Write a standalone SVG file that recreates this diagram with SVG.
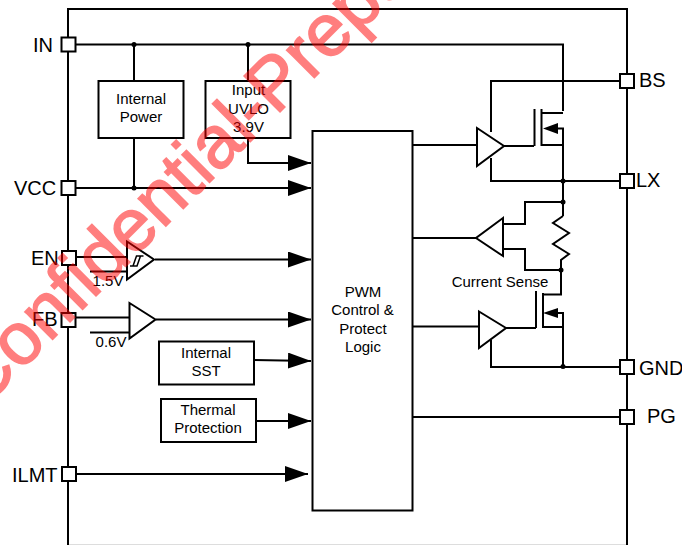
<svg xmlns="http://www.w3.org/2000/svg" width="682" height="545" viewBox="0 0 682 545">
<style>
.w{fill:none;stroke:#000;stroke-width:2}
.b{fill:#fff;stroke:#000;stroke-width:2}
.p{fill:#fff;stroke:#000;stroke-width:2}
.d{fill:#000}
text{font-family:"Liberation Sans",Arial,sans-serif;fill:#000}
.l{font-size:20px}
.s{font-size:15px;text-anchor:middle}
.wm{font-size:74px;fill:#ff0000;stroke:#ff0000;stroke-width:1.5;opacity:.5}
</style>
<defs>
<marker id="a" markerUnits="userSpaceOnUse" markerWidth="24" markerHeight="16" refX="23" refY="8" orient="auto"><path d="M0 0L23 8L0 16Z" fill="#000"/></marker>
</defs>
<path d="M68 544.500H627" fill="none" stroke="#ddd" stroke-width="1"/>
<path id="chip" class="w" d="M68 545V9H627V545"/>
<g id="connectors">
<path class="w" d="M75 44.500H563V111"/>
<path class="w" d="M134 44.500V81M134 137V188"/>
<path class="w" d="M248 44.500V81M248 138V163H311" marker-end="url(#a)"/>
<path class="w" d="M75 188H311" marker-end="url(#a)"/>
<path class="w" d="M155 259.500H311" marker-end="url(#a)"/>
<path class="w" d="M76 257H127M90 271.500H127"/>
<path class="w" d="M76 317.500H129M90 332.500H129"/>
<path class="w" d="M156 319.500H311" marker-end="url(#a)"/>
<path class="w" d="M254 360L311 361" marker-end="url(#a)"/>
<path class="w" d="M256 421H311" marker-end="url(#a)"/>
<path class="w" d="M76 474H308" marker-end="url(#a)"/>
<path class="w" d="M413 145H477M504 146H534M491 132V81H620M491 158V181H620"/>
<path class="w" d="M534.500 109V146M541.500 109V146M541.500 113H563M541.500 145H563V216M555 128.500H563V145"/>
<path class="w" d="M410 238H476M503 224H525V202H563M503 249H525V270H561"/>
<path class="w" d="M563 216L553 223L569 233L553 244L569 254L561 260V294.500H543"/>
<path class="w" d="M536 291V328M543 293V327H563V367M555 313H563V327"/>
<path class="w" d="M413 326.500H478M506 328H536M491 340V367H620"/>
<path class="w" d="M413 417H620"/>
<path class="d" d="M543 128.500L558 123V134ZM543 313L558 308V318Z"/>
<circle class="d" cx="134" cy="44.500" r="2.500"/><circle class="d" cx="248" cy="44.500" r="2.500"/><circle class="d" cx="134" cy="188" r="2.500"/><circle class="d" cx="563" cy="181" r="2.500"/><circle class="d" cx="563" cy="202" r="2.500"/><circle class="d" cx="561" cy="270" r="2.500"/><circle class="d" cx="563" cy="366.500" r="2.500"/><circle class="d" cx="412" cy="238" r="1.500"/>
</g>
<g id="IN"><rect class="p" x="61.500" y="37.500" width="14" height="14"/><text class="l" x="33" y="52">IN</text></g>
<g id="VCC"><rect class="p" x="61.500" y="181" width="14" height="14"/><text class="l" x="14" y="195">VCC</text></g>
<g id="EN"><rect class="p" x="62" y="251" width="14" height="14"/><text class="l" x="31" y="265">EN</text></g>
<g id="FB"><rect class="p" x="61.500" y="313" width="14" height="14"/><text class="l" x="32" y="326">FB</text></g>
<g id="ILMT"><rect class="p" x="62" y="467" width="14" height="14"/><text class="l" x="12" y="482">ILMT</text></g>
<g id="BS"><rect class="p" x="620" y="74" width="14" height="14"/><text class="l" x="639" y="87">BS</text></g>
<g id="LX"><rect class="p" x="620" y="174" width="14" height="14"/><text class="l" x="636" y="187">LX</text></g>
<g id="GND"><rect class="p" x="620" y="360" width="14" height="14"/><text class="l" x="639" y="375">GND</text></g>
<g id="PG"><rect class="p" x="620" y="410" width="14" height="14"/><text class="l" x="647" y="423">PG</text></g>
<g id="internal-power"><rect class="b" x="98.500" y="81" width="85" height="57"/><text class="s" x="141" y="104">Internal</text><text class="s" x="141" y="122">Power</text></g>
<g id="input-uvlo"><rect class="b" x="205.500" y="81" width="85" height="57"/><text class="s" x="248.500" y="95">Input</text><text class="s" x="248.500" y="114">UVLO</text><text class="s" x="248.500" y="132">3.9V</text></g>
<g id="pwm"><rect class="b" x="312.500" y="131" width="100" height="379.500"/><text class="s" x="363" y="297">PWM</text><text class="s" x="362.500" y="315">Control &amp;</text><text class="s" x="363" y="334">Protect</text><text class="s" x="363" y="352">Logic</text></g>
<g id="internal-sst"><rect class="b" x="159" y="341.500" width="95" height="43"/><text class="s" x="206" y="358">Internal</text><text class="s" x="206" y="376">SST</text></g>
<g id="thermal"><rect class="b" x="161" y="399" width="95" height="43"/><text class="s" x="208" y="415">Thermal</text><text class="s" x="208" y="433">Protection</text></g>
<g id="en-comp"><path class="b" d="M127 241.500L154 259.500L127 279.500Z"/><path class="w" style="stroke-width:1.5" d="M130 266H137L140.500 256H143.500M133 266L136.500 256H140.500"/><text class="s" x="108" y="286">1.5V</text></g>
<g id="fb-comp"><path class="b" d="M129.500 303L155.500 319.500L129.500 338.500Z"/><text class="s" x="111" y="347">0.6V</text></g>
<g id="high-driver"><path class="b" d="M477 128L504 146L477 166Z"/></g>
<g id="sense-amp"><path class="b" d="M503 218L476 238L503 256Z"/></g>
<g id="low-driver"><path class="b" d="M479 311.500L506 328L479 348Z"/></g>
<g id="current-sense"><text class="s" x="500" y="287">Current Sense</text></g>
<text class="wm" transform="translate(-18 410) rotate(-45)">Confidential-Prepared</text>
</svg>
